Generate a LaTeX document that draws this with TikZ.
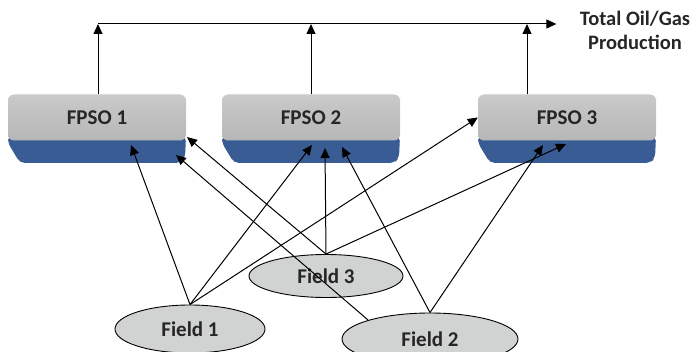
\documentclass[tikz,border=0pt]{standalone}
\usepackage{fontspec}
\setmainfont{Carlito}
\usetikzlibrary{shapes.geometric,arrows.meta,calc}
\definecolor{fpsogray}{RGB}{192,192,192}
\definecolor{fpsoblue}{RGB}{58,92,148}
\definecolor{fieldgray}{RGB}{209,211,211}

\begin{document}
\begin{tikzpicture}[x=1pt, y=-1pt,
    arr/.style={-{Triangle[length=10pt,width=9pt]}, line width=1pt},
    fpso/.style={rounded corners=6pt, minimum width=178pt, minimum height=46pt,
        top color=fpsogray!85!white, bottom color=fpsogray!95!black,
        font=\bfseries\fontsize{21}{25}\selectfont, text=black!85},
    field/.style={ellipse, draw, line width=0.9pt, fill=fieldgray, inner sep=0pt,
        font=\bfseries\fontsize{21}{25}\selectfont, text=black!85}]
    \useasboundingbox (0,0) rectangle (692,352);

    % FPSO units: blue hull under a grey deck
    \foreach \n/\x in {1/8, 2/222, 3/478} {
        \fill[fpsoblue, rounded corners=5pt] (\x,136) -- (\x+178,136) -- (\x+177,158) -- (\x+172,163) -- (\x+12,163) -- (\x,143) -- cycle;
        \node[fpso] (p\n) at (\x+89,117.5) {FPSO \n};
    }

    % fields
    \node[field, minimum width=150pt, minimum height=48pt] (fld1) at (190,329) {Field 1};
    \node[field, minimum width=176pt, minimum height=52pt] (fld2) at (430,339) {Field 2};
    \node[field, minimum width=154pt, minimum height=43pt] (fld3) at (326,276) {Field 3};

    % total production line
    \node[font=\bfseries\fontsize{20.5}{24}\selectfont, text=black!85, align=center] (total) at (635,30) {Total Oil/Gas\\Production};
    \coordinate (top) at (98,24);
    \draw[arr] (top) -- ($(total.west |- top)+(-20,0)$);
    \draw[arr] ($(p1.north)+(1,0)$) -- (top);
    \draw[arr] (p2.north) -- (p2.north |- top);
    \coordinate (p3up) at ($(p3.north)+(-40,0)$);
    \draw[arr] (p3up) -- (p3up |- top);

    % field to FPSO links
    \draw[arr] (fld1.north) -- ($(p1)+(34,27.5)$);
    \draw[arr] (fld1.north) -- ($(p2)+(1,27.5)$);
    \draw[arr] (fld1.north) -- (p3.west);
    \draw[arr] (fld3.north) -- ($(p1)+(90,19.5)$);
    \draw[arr] (fld3.north) -- ($(p2)+(14,30.5)$);
    \draw[arr] (fld3.north) -- ($(p3)+(-1,26.5)$);
    \draw[arr] (fld2.163) -- ($(p1)+(79,37.5)$);
    \draw[arr] (fld2.north) -- ($(p2)+(31,29.5)$);
    \draw[arr] (fld2.north) -- ($(p3)+(-24,27.5)$);
\end{tikzpicture}
\end{document}
